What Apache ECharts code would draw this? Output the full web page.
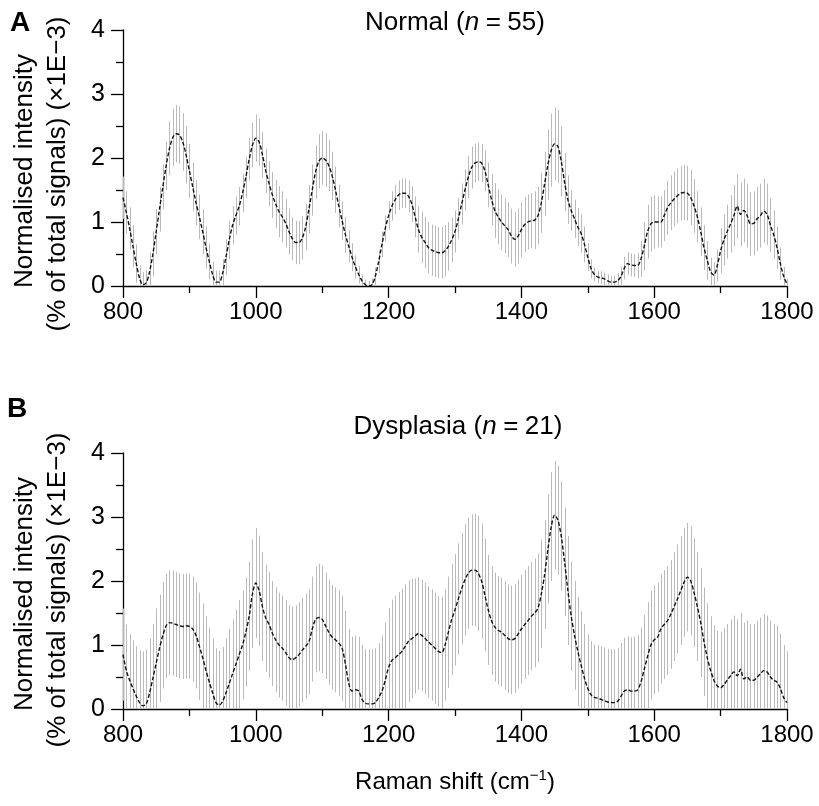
<!DOCTYPE html>
<html>
<head>
<meta charset="utf-8">
<script src="https://cdn.jsdelivr.net/npm/echarts@6/dist/echarts.min.js"></script>
<style>
html,body{margin:0;padding:0;background:#fff;}
#chart{width:819px;height:806px;}
</style>
</head>
<body>
<div id="chart"></div>
<script>
// Raman shift positions (cm^-1), step 5
const shifts = [];
for (let s = 800; s <= 1800; s += 5) shifts.push(s);

// Panel A: Normal (n=55) mean spectrum (x1E-3)
const normalMean = [
1.38,1.15,0.90,0.62,0.35,0.12,0.02,0.05,0.22,0.50,
0.85,1.20,1.55,1.88,2.15,2.32,2.38,2.36,2.25,2.05,
1.80,1.55,1.30,1.08,0.85,0.60,0.38,0.18,0.06,0.06,
0.20,0.45,0.72,0.95,1.10,1.25,1.45,1.70,1.98,2.20,
2.31,2.25,2.05,1.80,1.60,1.42,1.28,1.16,1.08,0.98,
0.85,0.74,0.68,0.68,0.75,0.92,1.20,1.50,1.78,1.95,
2.00,1.97,1.88,1.72,1.50,1.25,1.02,0.80,0.62,0.45,
0.30,0.18,0.08,0.02,0.00,0.02,0.15,0.38,0.65,0.90,
1.10,1.25,1.35,1.42,1.45,1.45,1.40,1.28,1.08,0.88,
0.76,0.68,0.60,0.56,0.54,0.52,0.52,0.55,0.62,0.72,
0.85,1.05,1.28,1.50,1.70,1.85,1.92,1.94,1.92,1.80,
1.58,1.35,1.18,1.08,1.00,0.94,0.88,0.78,0.73,0.78,
0.88,0.96,1.00,1.02,1.03,1.10,1.30,1.60,1.90,2.12,
2.22,2.18,1.95,1.62,1.35,1.18,1.05,0.92,0.82,0.65,
0.45,0.27,0.18,0.14,0.13,0.11,0.08,0.06,0.06,0.08,
0.15,0.28,0.35,0.33,0.32,0.32,0.42,0.62,0.85,0.97,
1.00,1.00,1.00,1.10,1.22,1.30,1.36,1.41,1.45,1.46,
1.45,1.38,1.25,1.08,0.85,0.60,0.40,0.22,0.17,0.32,
0.55,0.72,0.85,0.97,1.10,1.25,1.12,1.18,1.10,0.97,
0.98,1.05,1.10,1.17,1.12,0.95,0.80,0.60,0.35,0.15,
0.03
];
// Panel A: standard deviation
const normalSD = [
0.33,0.33,0.33,0.33,0.30,0.20,0.20,0.20,0.30,0.35,
0.35,0.35,0.35,0.38,0.42,0.45,0.45,0.45,0.45,0.45,
0.42,0.38,0.35,0.35,0.35,0.33,0.28,0.20,0.18,0.18,
0.22,0.28,0.30,0.30,0.30,0.30,0.30,0.32,0.33,0.35,
0.37,0.37,0.36,0.35,0.35,0.36,0.38,0.40,0.40,0.38,
0.36,0.34,0.34,0.34,0.34,0.36,0.38,0.40,0.42,0.42,
0.42,0.42,0.40,0.38,0.36,0.33,0.30,0.28,0.25,0.22,
0.18,0.14,0.10,0.08,0.08,0.10,0.14,0.18,0.20,0.20,
0.22,0.23,0.23,0.23,0.23,0.23,0.25,0.28,0.32,0.36,
0.40,0.40,0.40,0.40,0.40,0.40,0.40,0.40,0.38,0.35,
0.33,0.32,0.32,0.32,0.33,0.33,0.30,0.30,0.30,0.32,
0.35,0.40,0.43,0.43,0.43,0.43,0.43,0.43,0.43,0.43,
0.43,0.43,0.43,0.43,0.45,0.45,0.47,0.50,0.55,0.57,
0.57,0.57,0.55,0.45,0.38,0.32,0.30,0.30,0.30,0.28,
0.22,0.15,0.11,0.10,0.10,0.10,0.10,0.10,0.10,0.12,
0.15,0.18,0.18,0.18,0.18,0.20,0.28,0.38,0.42,0.43,
0.42,0.40,0.40,0.40,0.42,0.43,0.43,0.43,0.43,0.43,
0.43,0.43,0.42,0.40,0.38,0.35,0.30,0.22,0.20,0.25,
0.35,0.40,0.42,0.45,0.48,0.50,0.50,0.50,0.50,0.50,
0.50,0.50,0.50,0.50,0.48,0.42,0.38,0.33,0.25,0.15,
0.08
];
// Panel B: Dysplasia (n=21) mean spectrum (x1E-3)
const dysplasiaMean = [
0.85,0.60,0.45,0.32,0.20,0.10,0.05,0.08,0.25,0.48,
0.72,0.95,1.15,1.30,1.35,1.34,1.32,1.30,1.29,1.30,
1.29,1.25,1.15,0.98,0.80,0.60,0.42,0.25,0.10,0.06,
0.12,0.25,0.40,0.55,0.70,0.85,1.00,1.20,1.45,1.80,
1.97,1.85,1.60,1.42,1.32,1.18,1.08,1.00,0.95,0.88,
0.80,0.77,0.80,0.85,0.92,0.98,1.05,1.25,1.40,1.43,
1.40,1.30,1.20,1.12,1.08,1.03,0.95,0.70,0.40,0.28,
0.30,0.28,0.15,0.09,0.08,0.08,0.10,0.18,0.28,0.45,
0.65,0.76,0.80,0.85,0.90,0.98,1.06,1.10,1.14,1.18,
1.15,1.10,1.05,1.00,0.95,0.90,0.88,1.00,1.20,1.40,
1.55,1.72,1.88,2.02,2.12,2.17,2.17,2.12,2.00,1.78,
1.55,1.38,1.28,1.23,1.20,1.15,1.10,1.08,1.10,1.17,
1.25,1.32,1.38,1.45,1.50,1.58,1.80,2.10,2.50,2.85,
3.03,2.95,2.70,2.30,1.85,1.45,1.15,0.90,0.68,0.48,
0.32,0.22,0.18,0.17,0.15,0.13,0.11,0.10,0.10,0.12,
0.20,0.28,0.30,0.28,0.28,0.30,0.42,0.62,0.82,1.00,
1.08,1.12,1.25,1.32,1.38,1.48,1.60,1.72,1.85,1.98,
2.06,2.00,1.82,1.60,1.35,1.05,0.80,0.60,0.45,0.36,
0.33,0.38,0.45,0.52,0.58,0.52,0.62,0.47,0.50,0.45,
0.45,0.50,0.55,0.60,0.58,0.50,0.45,0.42,0.32,0.18,
0.10
];
// Panel B: standard deviation
const dysplasiaSD = [
0.72,0.72,0.72,0.75,0.78,0.82,0.85,0.85,0.85,0.85,
0.85,0.84,0.83,0.82,0.82,0.82,0.82,0.82,0.82,0.82,
0.82,0.82,0.83,0.84,0.85,0.85,0.85,0.85,0.85,0.85,
0.85,0.85,0.85,0.85,0.85,0.85,0.85,0.85,0.85,0.85,
0.86,0.86,0.85,0.84,0.83,0.82,0.82,0.82,0.82,0.82,
0.82,0.83,0.82,0.82,0.82,0.82,0.82,0.82,0.83,0.84,
0.84,0.83,0.82,0.82,0.82,0.82,0.82,0.84,0.85,0.85,
0.85,0.85,0.85,0.85,0.85,0.85,0.85,0.85,0.87,0.90,
0.93,0.95,0.97,0.98,0.98,0.97,0.95,0.93,0.90,0.88,
0.87,0.87,0.87,0.87,0.87,0.87,0.87,0.87,0.87,0.87,
0.87,0.87,0.87,0.87,0.87,0.87,0.88,0.90,0.90,0.88,
0.86,0.85,0.85,0.85,0.85,0.85,0.85,0.85,0.85,0.85,
0.85,0.85,0.85,0.85,0.85,0.85,0.85,0.85,0.85,0.85,
0.85,0.85,0.85,0.85,0.85,0.85,0.85,0.85,0.85,0.85,
0.85,0.84,0.83,0.83,0.83,0.83,0.83,0.83,0.83,0.83,
0.83,0.83,0.83,0.84,0.85,0.85,0.85,0.85,0.85,0.85,
0.85,0.85,0.85,0.85,0.85,0.85,0.85,0.85,0.85,0.85,
0.85,0.85,0.85,0.85,0.85,0.85,0.85,0.85,0.86,0.87,
0.88,0.88,0.88,0.88,0.88,0.88,0.88,0.88,0.88,0.88,
0.88,0.88,0.88,0.88,0.88,0.88,0.88,0.88,0.86,0.82,
0.80
];

const xTicks = [800, 1000, 1200, 1400, 1600, 1800];
const yTicks = [0, 1, 2, 3, 4];

const FONT = "'Liberation Sans', Arial, Helvetica, sans-serif";

function pairs(xs, ys) { return xs.map((x, i) => [x, ys[i]]); }
function bars(xs, m, sd) { return xs.map((x, i) => [x, Math.max(0, m[i] - sd[i]), m[i] + sd[i]]); }

function renderBar(params, api) {
  const x = api.value(0);
  const p1 = api.coord([x, api.value(1)]);
  const p2 = api.coord([x, api.value(2)]);
  const px = Math.round(p1[0]) + 0.5;
  return {
    type: 'line',
    shape: { x1: px, y1: p1[1], x2: px, y2: p2[1] },
    style: { stroke: '#bababa', lineWidth: 1 }
  };
}

function xAxisCfg(idx) {
  return {
    gridIndex: idx, type: 'value',
    min: xTicks[0], max: xTicks[xTicks.length - 1], interval: 200,
    axisLine: { show: true, onZero: false, lineStyle: { color: '#000', width: 1.3 } },
    axisTick: { show: true, length: 12, lineStyle: { color: '#000', width: 1.3 } },
    minorTick: { show: true, splitNumber: 2, length: 7, lineStyle: { color: '#000', width: 1.3 } },
    splitLine: { show: false }, minorSplitLine: { show: false },
    axisLabel: { color: '#000', fontSize: 24, fontFamily: FONT, margin: 14, formatter: v => String(v) }
  };
}
function yAxisCfg(idx) {
  return {
    gridIndex: idx, type: 'value',
    min: yTicks[0], max: yTicks[yTicks.length - 1], interval: 1,
    axisLine: { show: true, lineStyle: { color: '#000', width: 1.3 } },
    axisTick: { show: true, length: 12, lineStyle: { color: '#000', width: 1.3 } },
    minorTick: { show: true, splitNumber: 2, length: 7, lineStyle: { color: '#000', width: 1.3 } },
    splitLine: { show: false }, minorSplitLine: { show: false },
    axisLabel: { color: '#000', fontSize: 25, fontFamily: FONT, margin: 18, formatter: v => String(v) }
  };
}

const chart = echarts.init(document.getElementById('chart'), null, { renderer: 'canvas' });
const txt = (x, y, text, size, extra) => Object.assign({
  type: 'text', x: x, y: y,
  style: Object.assign({ text: text, fontSize: size, fontFamily: FONT, fill: '#000', align: 'center', verticalAlign: 'middle' }, extra || {})
});
const rot = (x, y, text, size) => ({
  type: 'text', x: x, y: y, rotation: Math.PI / 2,
  style: { text: text, fontSize: size, fontFamily: FONT, fill: '#000', align: 'center', verticalAlign: 'middle' }
});
const titleRich = {
  a: { fontSize: 26, fontFamily: FONT, fill: '#000' },
  i: { fontSize: 26, fontFamily: FONT, fontStyle: 'italic', fill: '#000' }
};

chart.setOption({
  animation: false,
  backgroundColor: '#fff',
  grid: [
    { left: 123, top: 30, width: 664, height: 256 },
    { left: 123, top: 453, width: 664, height: 256 }
  ],
  xAxis: [xAxisCfg(0), xAxisCfg(1)],
  yAxis: [yAxisCfg(0), yAxisCfg(1)],
  series: [
    { type: 'custom', xAxisIndex: 0, yAxisIndex: 0, renderItem: renderBar, data: bars(shifts, normalMean, normalSD), encode: { x: 0, y: [1, 2] }, z: 1 },
    { type: 'line', xAxisIndex: 0, yAxisIndex: 0, data: pairs(shifts, normalMean), showSymbol: false, smooth: 0.3,
      lineStyle: { color: '#111', width: 1.4, type: [4, 2] }, z: 3 },
    { type: 'custom', xAxisIndex: 1, yAxisIndex: 1, renderItem: renderBar, data: bars(shifts, dysplasiaMean, dysplasiaSD), encode: { x: 0, y: [1, 2] }, z: 1 },
    { type: 'line', xAxisIndex: 1, yAxisIndex: 1, data: pairs(shifts, dysplasiaMean), showSymbol: false, smooth: 0.3,
      lineStyle: { color: '#111', width: 1.4, type: [4, 2] }, z: 3 }
  ],
  graphic: [
    txt(10, 23, 'A', 28, { fontWeight: 'bold', align: 'left' }),
    txt(7, 409, 'B', 28, { fontWeight: 'bold', align: 'left' }),
    { type: 'text', x: 455, y: 23, style: { text: '{a|Normal (}{i|n}{a|\u2005=\u200555)}', rich: titleRich, align: 'center', verticalAlign: 'middle' } },
    { type: 'text', x: 458, y: 427, style: { text: '{a|Dysplasia (}{i|n}{a|\u2005=\u200521)}', rich: titleRich, align: 'center', verticalAlign: 'middle' } },
    rot(25, 171, 'Normalised intensity', 26),
    rot(58, 174, '(% of total signals) (\u00d71E\u22123)', 26),
    rot(25, 594, 'Normalised intensity', 26),
    rot(58, 590, '(% of total signals) (\u00d71E\u22123)', 26),
    { type: 'text', x: 455, y: 782, style: { text: '{a|Raman shift (cm}{s|\u22121}{a|)}', align: 'center', verticalAlign: 'middle',
      rich: { a: { fontSize: 24, fontFamily: FONT, fill: '#000' }, s: { fontSize: 15, fontFamily: FONT, fill: '#000', verticalAlign: 'top', padding: [0, 0, 13, 0] } } } }
  ]
});
</script>
</body>
</html>
